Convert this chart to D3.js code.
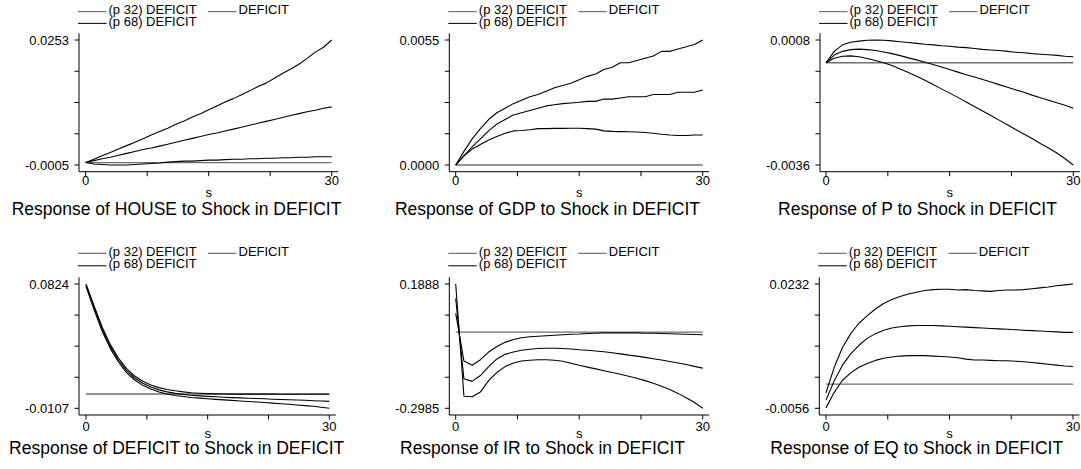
<!DOCTYPE html>
<html><head><meta charset="utf-8">
<script src="https://cdn.jsdelivr.net/npm/d3@7"></script>
<style>
body{margin:0;background:#fff}
svg{display:block}
text{font-family:"Liberation Sans",Arial,Helvetica,sans-serif;fill:#000}
</style>
</head><body>
<svg id="chart" width="1081" height="469"></svg>
<script>
// ---------------- DATA ----------------
const steps = d3.range(0, 31);
const shockName = "DEFICIT";
const responseNames = ["HOUSE", "GDP", "P", "DEFICIT", "IR", "EQ"];
const legendLabels = ["(p 32) DEFICIT", "DEFICIT", "(p 68) DEFICIT"];
const yMin = [-0.0005, 0.0000, -0.0036, -0.0107, -0.2985, -0.0056];
const yMax = [0.0253, 0.0055, 0.0008, 0.0824, 0.1888, 0.0232];
const yTickLabels = [
  ["-0.0005", "0.0253"], ["0.0000", "0.0055"], ["-0.0036", "0.0008"],
  ["-0.0107", "0.0824"], ["-0.2985", "0.1888"], ["-0.0056", "0.0232"]
];
const xTickLabels = ["0", "30"];
const xAxisTitle = "s";

const houseP32 = [0, -0.0003, -0.0004, -0.0005, -0.0005, -0.0005, -0.0004, -0.0003, -0.0002, -0.0001, 0.0001, 0.0002, 0.0003, 0.0003, 0.0004, 0.0005, 0.0005, 0.0006, 0.0007, 0.0007, 0.0008, 0.0008, 0.0009, 0.0009, 0.0010, 0.0010, 0.0011, 0.0011, 0.0012, 0.0012, 0.0012];
const houseMed = [0, 0.0004, 0.0008, 0.0011, 0.0015, 0.0019, 0.0023, 0.0027, 0.0030, 0.0034, 0.0038, 0.0042, 0.0046, 0.0050, 0.0054, 0.0058, 0.0061, 0.0065, 0.0069, 0.0073, 0.0077, 0.0081, 0.0085, 0.0089, 0.0093, 0.0097, 0.0101, 0.0105, 0.0108, 0.0112, 0.0115];
const houseP68 = [0, 0.0007, 0.0014, 0.0021, 0.0028, 0.0035, 0.0042, 0.0049, 0.0057, 0.0064, 0.0071, 0.0079, 0.0086, 0.0094, 0.0101, 0.0109, 0.0117, 0.0125, 0.0132, 0.0140, 0.0148, 0.0157, 0.0164, 0.0174, 0.0184, 0.0193, 0.0203, 0.0215, 0.0228, 0.0238, 0.0253];

const gdpP32 = [0, 0.0004, 0.0007, 0.0009, 0.0011, 0.00125, 0.0014, 0.0015, 0.00152, 0.00155, 0.0016, 0.0016, 0.00161, 0.00161, 0.00162, 0.00162, 0.0016, 0.00158, 0.0015, 0.00148, 0.00147, 0.00146, 0.00145, 0.00143, 0.0014, 0.00135, 0.00132, 0.0013, 0.0013, 0.00132, 0.00132];
const gdpMed = [0, 0.0004, 0.0008, 0.00115, 0.0015, 0.0018, 0.0020, 0.0022, 0.0023, 0.0024, 0.0025, 0.0026, 0.00265, 0.0027, 0.00273, 0.00276, 0.0028, 0.0028, 0.0029, 0.0029, 0.00295, 0.0030, 0.0030, 0.0030, 0.0031, 0.0031, 0.0031, 0.0032, 0.0032, 0.0032, 0.0033];
const gdpP68 = [0, 0.0006, 0.00115, 0.0016, 0.0020, 0.0023, 0.0025, 0.0027, 0.00285, 0.0030, 0.0031, 0.00325, 0.0034, 0.0035, 0.0036, 0.00375, 0.0039, 0.0040, 0.0042, 0.0043, 0.0045, 0.0045, 0.0046, 0.0047, 0.0048, 0.0050, 0.0050, 0.0051, 0.0052, 0.0053, 0.0055];

const pP32 = [0, 0.00016, 0.00023, 0.00024, 0.00021, 0.00015, 0.00008, 0.0, -0.0001, -0.00022, -0.00034, -0.00048, -0.00062, -0.00077, -0.00092, -0.00107, -0.00122, -0.00138, -0.00154, -0.0017, -0.00186, -0.00202, -0.00218, -0.00235, -0.00251, -0.00267, -0.00284, -0.003, -0.00318, -0.00338, -0.0036];
const pMed = [0, 0.00027, 0.0004, 0.00046, 0.00048, 0.00046, 0.00043, 0.00038, 0.00032, 0.00025, 0.00017, 0.0001, 0.00002, -0.00006, -0.00015, -0.00024, -0.00033, -0.00042, -0.0005, -0.00059, -0.00068, -0.00077, -0.00086, -0.00095, -0.00104, -0.00114, -0.00123, -0.00132, -0.00141, -0.0015, -0.0016];
const pP68 = [0, 0.0004, 0.00063, 0.00072, 0.00076, 0.00079, 0.0008, 0.00079, 0.00077, 0.00074, 0.00071, 0.00068, 0.00065, 0.00063, 0.0006, 0.00058, 0.00055, 0.00053, 0.0005, 0.00047, 0.00045, 0.00043, 0.0004, 0.00037, 0.00035, 0.00032, 0.0003, 0.00028, 0.00026, 0.00023, 0.00021];

const deficitP32 = [0.0806, 0.063, 0.047, 0.034, 0.024, 0.016, 0.0105, 0.0065, 0.0037, 0.0015, 0.0, -0.0011, -0.0019, -0.0026, -0.0031, -0.0036, -0.004, -0.0044, -0.0048, -0.0052, -0.0056, -0.006, -0.0064, -0.0068, -0.0073, -0.0077, -0.0082, -0.0087, -0.0092, -0.0099, -0.0107];
const deficitMed = [0.0815, 0.0645, 0.0485, 0.0355, 0.0255, 0.0175, 0.012, 0.008, 0.0052, 0.0031, 0.0016, 0.0005, -0.0003, -0.0009, -0.0014, -0.0018, -0.0021, -0.0024, -0.0027, -0.0029, -0.0032, -0.0034, -0.0036, -0.0039, -0.0041, -0.0043, -0.0045, -0.0047, -0.0050, -0.0052, -0.0055];
const deficitP68 = [0.0824, 0.066, 0.050, 0.037, 0.027, 0.019, 0.0135, 0.0095, 0.0068, 0.0048, 0.0034, 0.0024, 0.0016, 0.0010, 0.0006, 0.0003, 0.0001, 0.0, -0.0001, -0.0001, -0.0001, -0.0001, -0.0001, -0.0001, -0.0002, -0.0002, -0.0002, -0.0002, -0.0002, -0.0002, -0.0002];

const irP32 = [0.1888, -0.251, -0.253, -0.235, -0.190, -0.158, -0.135, -0.121, -0.113, -0.110, -0.108, -0.108, -0.110, -0.114, -0.122, -0.130, -0.137, -0.144, -0.151, -0.158, -0.165, -0.173, -0.181, -0.190, -0.200, -0.212, -0.225, -0.240, -0.257, -0.276, -0.2985];
const irMed = [0.1325, -0.183, -0.193, -0.170, -0.135, -0.105, -0.087, -0.078, -0.071, -0.067, -0.064, -0.063, -0.063, -0.064, -0.066, -0.069, -0.071, -0.074, -0.077, -0.081, -0.085, -0.090, -0.094, -0.099, -0.104, -0.109, -0.115, -0.121, -0.127, -0.134, -0.141];
const irP68 = [0.074, -0.113, -0.130, -0.108, -0.078, -0.056, -0.040, -0.029, -0.022, -0.018, -0.016, -0.014, -0.012, -0.010, -0.008, -0.007, -0.005, -0.004, -0.003, -0.003, -0.003, -0.003, -0.003, -0.004, -0.004, -0.005, -0.006, -0.007, -0.008, -0.009, -0.010];

const eqP32 = [-0.0055, -0.0019, 0.0009, 0.0026, 0.0039, 0.0048, 0.0055, 0.0060, 0.0063, 0.0065, 0.0066, 0.0066, 0.0066, 0.0065, 0.0064, 0.0063, 0.0061, 0.0058, 0.0056, 0.0056, 0.0055, 0.0054, 0.0054, 0.0053, 0.0052, 0.0050, 0.0048, 0.0046, 0.0044, 0.0042, 0.0041];
const eqMed = [-0.0037, 0.0008, 0.0044, 0.0070, 0.0090, 0.0106, 0.0117, 0.0125, 0.0130, 0.0133, 0.0135, 0.0136, 0.0136, 0.0136, 0.0135, 0.0134, 0.0133, 0.0132, 0.0131, 0.0130, 0.0129, 0.0128, 0.0127, 0.0126, 0.0125, 0.0124, 0.0123, 0.0122, 0.0121, 0.0120, 0.0120];
const eqP68 = [-0.0020, 0.0039, 0.0085, 0.0117, 0.0141, 0.0158, 0.0174, 0.0187, 0.0196, 0.0203, 0.0209, 0.0213, 0.0217, 0.0219, 0.0220, 0.0220, 0.0218, 0.0219, 0.0217, 0.0216, 0.0215, 0.0217, 0.0218, 0.0218, 0.0219, 0.0221, 0.0223, 0.0225, 0.0228, 0.0230, 0.0232];

const panelSeries = [
  [houseP32, houseMed, houseP68],
  [gdpP32, gdpMed, gdpP68],
  [pP32, pMed, pP68],
  [deficitP32, deficitMed, deficitP68],
  [irP32, irMed, irP68],
  [eqP32, eqMed, eqP68]
];

// ---------------- LAYOUT ----------------
const layout = [
  {ax: 79,    x0: 85.7,  x1: 331.7,  title: 176.5, row: 0},
  {ax: 449.3, x0: 455.7, x1: 702.7,  title: 547.5, row: 0},
  {ax: 820,   x0: 826,   x1: 1073.3, title: 917.5, row: 0},
  {ax: 79,    x0: 86,    x1: 329.3,  title: 176.7, row: 1},
  {ax: 449.3, x0: 455.7, x1: 702.7,  title: 542.5, row: 1},
  {ax: 819.3, x0: 826,   x1: 1073,   title: 916.7, row: 1}
];
const rows = [
  {yTop: 40,  yBot: 165,   axisTop: 33.3,  axisY: 171.7, leg1: 11.7, leg2: 23.4, tickBase: 185,   sBase: 196.7, titleBase: 215},
  {yTop: 284, yBot: 408.3, axisTop: 277.3, axisY: 415,   leg1: 253.3, leg2: 265.8, tickBase: 430.5, sBase: 438,   titleBase: 454}
];

const svg = d3.select("#chart");

layout.forEach((L, i) => {
  const R = rows[L.row];
  const g = svg.append("g");
  const x = d3.scaleLinear().domain([0, 30]).range([L.x0, L.x1]);
  const y = d3.scaleLinear().domain([yMin[i], yMax[i]]).range([R.yBot, R.yTop]);

  // zero reference line
  g.append("line")
    .attr("x1", x(0)).attr("x2", x(30))
    .attr("y1", y(0)).attr("y2", y(0))
    .attr("stroke", "#6e6e6e").attr("stroke-width", 1.4);

  // response lines
  const line = d3.line().x((d, k) => x(steps[k])).y(d => y(d));
  panelSeries[i].forEach(s => {
    g.append("path").datum(s).attr("d", line)
      .attr("fill", "none").attr("stroke", "#000").attr("stroke-width", 1.1)
      .attr("stroke-linejoin", "round");
  });

  // y axis
  const yTickVals = d3.range(5).map(k => yMin[i] + (yMax[i] - yMin[i]) * k / 4);
  g.append("line").attr("x1", L.ax).attr("x2", L.ax)
    .attr("y1", R.axisTop).attr("y2", R.axisY)
    .attr("stroke", "#000").attr("stroke-width", 1);
  yTickVals.forEach(v => {
    g.append("line").attr("x1", L.ax - 4.5).attr("x2", L.ax)
      .attr("y1", y(v)).attr("y2", y(v)).attr("stroke", "#000").attr("stroke-width", 1);
  });
  [yMin[i], yMax[i]].forEach((v, k) => {
    g.append("text").attr("x", L.ax - 10).attr("y", y(v) + 4.6)
      .attr("text-anchor", "end").attr("font-size", 13).text(yTickLabels[i][k]);
  });

  // x axis
  g.append("line").attr("x1", L.ax).attr("x2", L.x1 + 6.5)
    .attr("y1", R.axisY).attr("y2", R.axisY).attr("stroke", "#000").attr("stroke-width", 1);
  [0, 7.5, 15, 22.5, 30].forEach(v => {
    g.append("line").attr("x1", x(v)).attr("x2", x(v))
      .attr("y1", R.axisY).attr("y2", R.axisY + 4.5).attr("stroke", "#000").attr("stroke-width", 1);
  });
  [0, 30].forEach((v, k) => {
    g.append("text").attr("x", x(v)).attr("y", R.tickBase)
      .attr("text-anchor", "middle").attr("font-size", 13).text(xTickLabels[k]);
  });
  g.append("text").attr("x", x(15)).attr("y", R.sBase)
    .attr("text-anchor", "middle").attr("font-size", 13).text(xAxisTitle);

  // title
  g.append("text").attr("x", L.title).attr("y", R.titleBase)
    .attr("text-anchor", "middle").attr("font-size", 17.5)
    .text("Response of " + responseNames[i] + " to Shock in " + shockName);

  // legend
  const legPos = [
    {lx: L.ax - 1,   ly: R.leg1, col: "#555"},
    {lx: L.ax + 129, ly: R.leg1, col: "#555"},
    {lx: L.ax - 1,   ly: R.leg2, col: "#000"}
  ];
  legendLabels.forEach((lab, k) => {
    const P = legPos[k];
    g.append("line").attr("x1", P.lx).attr("x2", P.lx + 28.5)
      .attr("y1", P.ly).attr("y2", P.ly).attr("stroke", P.col).attr("stroke-width", 1);
    g.append("text").attr("x", P.lx + 30.5).attr("y", P.ly + 2.6)
      .attr("font-size", 13).text(lab);
  });
});
</script>
</body></html>
